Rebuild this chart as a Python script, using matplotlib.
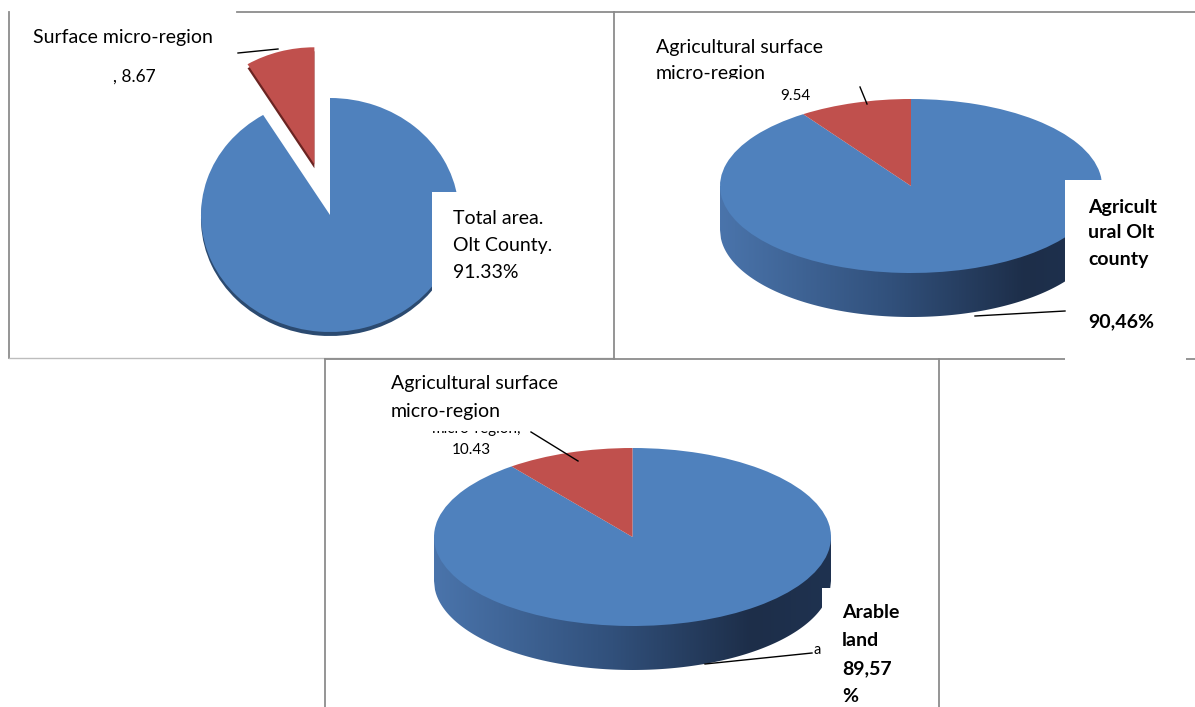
#!/usr/bin/env python3
"""
Olt County micro-region shares: three Excel-style pie charts
(total area, agricultural surface, arable land).
"""

import numpy as np
import matplotlib
matplotlib.use("Agg")
import matplotlib.pyplot as plt
from matplotlib.patches import Rectangle
from matplotlib.colors import LinearSegmentedColormap

plt.rcParams['font.family'] = ['Lato', 'DejaVu Sans']

# Data (percent shares)
total_area = [91.33, 8.67]          # Olt County, micro-region
agri_area = [90.46, 9.54]
arable_area = [89.57, 10.43]

BLUE = '#4f81bd'
RED = '#c0504d'
BLUE_SHADOW = '#2b4a70'
RED_SHADOW = '#6b2422'

W, H = 1195, 707
fig = plt.figure(figsize=(W / 100, H / 100), dpi=100)


def px_axes(x0, y0, x1, y1):
    """Axes placed in pixel coordinates (y measured from the top)."""
    return fig.add_axes([x0 / W, 1 - y1 / H, (x1 - x0) / W, (y1 - y0) / H])


# background layer: chart frames
bg = px_axes(0, 0, W, H)
bg.set_xlim(0, W)
bg.set_ylim(H, 0)
bg.axis('off')
frame = dict(color='#8c8c8c', linewidth=1.3)
bg.plot([9, 9], [12, 358], **frame)
bg.plot([237, 614], [12, 12], **frame)
bg.plot([9, 614], [358, 358], color='#bdbdbd', linewidth=1)
bg.plot([614, 614], [12, 359], **frame)
bg.plot([614, W], [12, 12], **frame)
bg.plot([325, W], [359, 359], **frame)
bg.plot([325, 325], [359, H], **frame)
bg.plot([939, 939], [359, H], **frame)


def flat_pie(values, cx, cy, rx, ry, explode, shadow_dy=4):
    L = 1.6
    # shadow copy, shifted down a few pixels
    ax_s = px_axes(cx - rx * L, cy - ry * L + shadow_dy, cx + rx * L, cy + ry * L + shadow_dy)
    ax_s.pie(values, colors=[BLUE_SHADOW, RED_SHADOW], startangle=90,
             counterclock=False, explode=explode, radius=1,
             wedgeprops=dict(linewidth=0))
    ax = px_axes(cx - rx * L, cy - ry * L, cx + rx * L, cy + ry * L)
    ax.pie(values, colors=[BLUE, RED], startangle=90, counterclock=False,
           explode=explode, radius=1, wedgeprops=dict(linewidth=0))
    for a in (ax_s, ax):
        a.set_aspect('auto')
        a.set_xlim(-L, L)
        a.set_ylim(-L, L)
        a.axis('off')


side_cmap = LinearSegmentedColormap.from_list(
    'side', [(0, '#4a74ab'), (0.45, '#31507b'), (0.8, '#1d2e49'), (1, '#1f3250')])


def pie_3d(values, cx, cy, rx, ry, depth):
    d = depth / ry
    m = 0.1
    ax = px_axes(cx - rx * (1 + m), cy - ry * (1 + m), cx + rx * (1 + m), cy + ry * (1 + m) + depth)
    ax.set_xlim(-1 - m, 1 + m)
    ax.set_ylim(-1 - m - d, 1 + m)
    # side wall with a left-to-right gradient
    xs = np.linspace(-1, 1, 400)
    lower = -np.sqrt(1 - xs ** 2)
    band = ax.fill_between(xs, lower - d, 0, color='none', linewidth=0)
    grad = np.linspace(0, 1, 256).reshape(1, -1)
    img = ax.imshow(grad, cmap=side_cmap, extent=[-1, 1, -1 - d, 0],
                    aspect='auto', zorder=1)
    img.set_clip_path(band.get_paths()[0], transform=ax.transData)
    wedges, _ = ax.pie(values, colors=[BLUE, RED], startangle=90,
                       counterclock=False, radius=1,
                       wedgeprops=dict(linewidth=0))
    for w in wedges:
        w.set_zorder(2)
    ax.set_aspect('auto')
    ax.set_xlim(-1 - m, 1 + m)
    ax.set_ylim(-1 - m - d, 1 + m)
    ax.axis('off')


flat_pie(total_area, 330, 215, 129, 117, explode=[0, 0.45])
pie_3d(agri_area, 911, 186, 191, 87, 44)
pie_3d(arable_area, 632.5, 537, 198.5, 89, 44)

# overlay layer: label boxes, labels, leader lines
ov = px_axes(0, 0, W, H)
ov.set_xlim(0, W)
ov.set_ylim(H, 0)
ov.axis('off')
ov.patch.set_alpha(0)


def white_box(x0, y0, x1, y1):
    ov.add_patch(Rectangle((x0, y0), x1 - x0, y1 - y0, facecolor='white',
                           edgecolor='none', zorder=3))


def txt(x, y, s, size=14, weight='normal', zorder=5, **kw):
    ov.text(x, y, s, fontsize=size, fontweight=weight, ha='left', va='center',
            color='black', zorder=zorder, **kw)


def leader(xs, ys):
    ov.plot(xs, ys, color='black', linewidth=1, zorder=4)


# chart 1
white_box(432, 192, 566, 345)
txt(33, 37, 'Surface micro-region')
txt(113, 77, ', 8.67', size=12.5)
leader([238, 278], [53, 49])
txt(453, 218, 'Total area.')
txt(453, 245, 'Olt County.')
txt(453, 272, '91.33%')

# chart 2
txt(656, 47, 'Agricultural surface')
txt(656, 73, 'micro-region', zorder=2)
white_box(640, 79, 850, 89)
txt(780, 96, '9.54', size=11)
leader([860, 867], [87, 104])
white_box(1065, 180, 1186, 366)
txt(1088, 207, 'Agricult', weight='bold')
txt(1088, 233, 'ural Olt', weight='bold')
txt(1088, 260, 'county', weight='bold')
txt(1088, 322, '90,46%', weight='bold')
leader([975, 1065], [316, 311])

# chart 3
txt(391, 384, 'Agricultural surface')
txt(391, 411, 'micro-region')
txt(432, 429, 'micro-region,', size=11, zorder=2)
white_box(420, 418, 540, 431)
txt(452, 450, '10.43', size=11)
leader([531, 578], [432, 461])
white_box(822, 588, 936, H)
txt(842, 613, 'Arable', weight='bold')
txt(842, 641, 'land', weight='bold')
txt(842, 669, '89,57', weight='bold')
txt(842, 697, '%', weight='bold')
leader([705, 812], [664, 653])
txt(814, 650, 'a', size=10.5)

fig.savefig('out.png', dpi=100)
plt.close(fig)
